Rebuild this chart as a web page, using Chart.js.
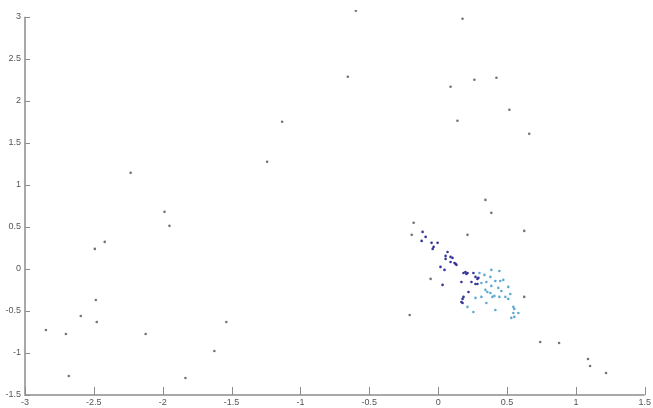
<!DOCTYPE html>
<html>
<head>
<meta charset="UTF-8">
<title>Scatter</title>
<script src="https://cdn.jsdelivr.net/npm/chart.js"></script>
<style>
    body { margin: 0; background: #fff; }
    .wrap { width: 653px; height: 408px; position: relative; }
</style>
</head>
<body>
<div class="wrap"><canvas id="chart"></canvas></div>
<script>
// outer points (gray)
const outerX = [-0.598, 0.177, -0.656, 0.09, 0.263, 0.423, -1.133, 0.14, 0.517, 0.661,
    -1.242, -2.233, -1.987, -1.951, -2.421, -2.493, -2.486, -2.479, -2.595, -2.848,
    -2.703, -2.682, -2.124, -1.835, -1.625, -1.538, -0.207, 0.741, 0.878, 1.088,
    1.103, 1.219, 0.343, 0.386, 0.625, -0.178, -0.192, 0.213, -0.055, 0.625];
const outerY = [3.071, 2.976, 2.286, 2.167, 2.25, 2.274, 1.75, 1.762, 1.893, 1.607,
    1.274, 1.143, 0.679, 0.512, 0.321, 0.238, -0.369, -0.631, -0.56, -0.726,
    -0.774, -1.274, -0.774, -1.298, -0.976, -0.631, -0.548, -0.869, -0.881, -1.071,
    -1.155, -1.238, 0.821, 0.667, 0.452, 0.548, 0.405, 0.405, -0.119, -0.333];

// dark blue part of the cluster
const darkX = [-0.113, -0.091, -0.12, -0.048, -0.004, -0.033, -0.04, 0.068, 0.054, 0.09,
    0.104, 0.054, 0.09, 0.126, 0.133, 0.119, 0.017, 0.046, 0.184, 0.205,
    0.198, 0.213, 0.256, 0.169, 0.271, 0.285, 0.292, 0.242, 0.271, 0.285,
    0.184, 0.177, 0.169, 0.177, 0.22, 0.032];
const darkY = [0.44, 0.381, 0.333, 0.31, 0.31, 0.262, 0.238, 0.202, 0.155, 0.143,
    0.131, 0.119, 0.083, 0.06, 0.048, 0.071, 0.024, -0.012, -0.048, -0.06,
    -0.036, -0.048, -0.048, -0.155, -0.095, -0.119, -0.107, -0.155, -0.179, -0.179,
    -0.333, -0.357, -0.393, -0.405, -0.274, -0.19];

// light blue part of the cluster
const lightX = [0.30, 0.386, 0.444, 0.336, 0.379, 0.314, 0.35, 0.415, 0.451, 0.473,
    0.386, 0.437, 0.509, 0.343, 0.357, 0.379, 0.459, 0.524, 0.271, 0.314,
    0.394, 0.408, 0.444, 0.488, 0.509, 0.35, 0.213, 0.256, 0.415, 0.546,
    0.553, 0.546, 0.553, 0.531, 0.582];
const lightY = [-0.048, -0.012, -0.024, -0.071, -0.095, -0.167, -0.155, -0.143, -0.143, -0.131,
    -0.202, -0.226, -0.214, -0.25, -0.274, -0.286, -0.262, -0.298, -0.345, -0.333,
    -0.333, -0.321, -0.333, -0.333, -0.357, -0.405, -0.452, -0.512, -0.488, -0.452,
    -0.476, -0.524, -0.571, -0.583, -0.524];

const xTicks = [-3, -2.5, -2, -1.5, -1, -0.5, 0, 0.5, 1, 1.5];
const yTicks = [-1.5, -1, -0.5, 0, 0.5, 1, 1.5, 2, 2.5, 3];

function pts(xs, ys) {
    return xs.map((x, i) => ({ x: x, y: ys[i] }));
}

// axis lines + inward tick marks like the matlab axes
const matlabAxes = {
    id: 'matlabAxes',
    afterDraw(chart) {
        const ctx = chart.ctx;
        const xs = chart.scales.x, ys = chart.scales.y;
        const a = chart.chartArea;
        const top = ys.getPixelForValue(3);
        ctx.save();
        ctx.strokeStyle = '#8c8c8c';
        ctx.lineWidth = 1.5;
        ctx.beginPath();
        ctx.moveTo(a.left, top);
        ctx.lineTo(a.left, a.bottom);
        ctx.lineTo(a.right, a.bottom);
        ctx.stroke();
        ctx.lineWidth = 1;
        xTicks.forEach(v => {
            const p = Math.round(xs.getPixelForValue(v)) + 0.5;
            ctx.beginPath();
            ctx.moveTo(p, a.bottom);
            ctx.lineTo(p, a.bottom - 8);
            ctx.stroke();
        });
        yTicks.forEach(v => {
            const p = Math.round(ys.getPixelForValue(v)) + 0.5;
            ctx.beginPath();
            ctx.moveTo(a.left, p);
            ctx.lineTo(a.left + 5, p);
            ctx.stroke();
        });
        ctx.restore();
    }
};

const fmt = v => String(+Number(v).toFixed(1));
const tickFont = { family: 'Liberation Sans', size: 9 };

new Chart(document.getElementById('chart'), {
    type: 'scatter',
    data: {
        datasets: [
            { label: 'outer', data: pts(outerX, outerY), backgroundColor: '#72727f' },
            { label: 'dark', data: pts(darkX, darkY), backgroundColor: '#33339a' },
            { label: 'light', data: pts(lightX, lightY), backgroundColor: '#5eaad2' }
        ]
    },
    options: {
        responsive: true,
        maintainAspectRatio: false,
        animation: false,
        layout: { padding: { top: 10, right: 6, left: 0, bottom: 0 } },
        elements: { point: { radius: 1.3, borderWidth: 0, hoverRadius: 2 } },
        plugins: { legend: { display: false }, tooltip: { enabled: false } },
        scales: {
            x: {
                type: 'linear', min: -3, max: 1.5,
                afterBuildTicks: s => { s.ticks = xTicks.map(v => ({ value: v })); },
                afterFit: s => { s.height = 13; },
                grid: { display: false, drawTicks: false },
                border: { display: false },
                ticks: { padding: 2, color: '#555', font: tickFont, callback: fmt, maxRotation: 0, autoSkip: false }
            },
            y: {
                // a little headroom above 3 for the top point, as in the original
                type: 'linear', min: -1.5, max: 3.08,
                afterBuildTicks: s => { s.ticks = yTicks.map(v => ({ value: v })); },
                afterFit: s => { s.width = 25; },
                grid: { display: false, drawTicks: false },
                border: { display: false },
                ticks: { padding: 4, color: '#555', font: tickFont, callback: fmt, autoSkip: false }
            }
        }
    },
    plugins: [matlabAxes]
});
</script>
</body>
</html>
